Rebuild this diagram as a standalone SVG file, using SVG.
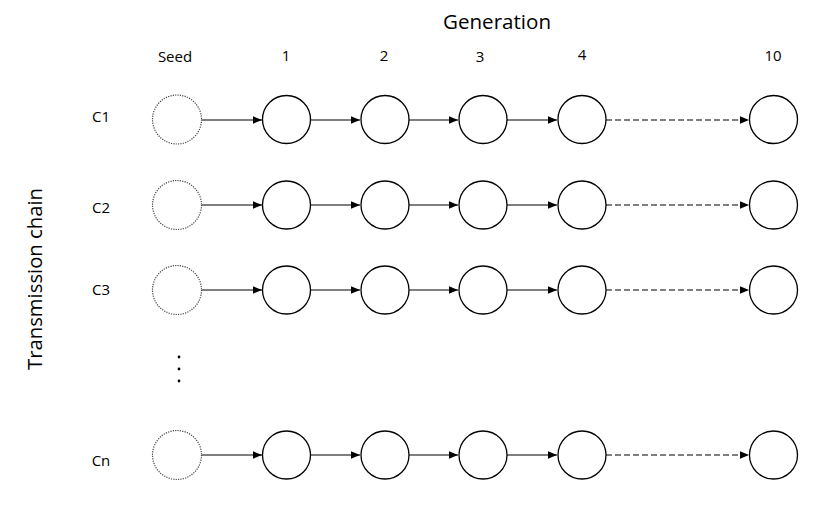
<svg xmlns="http://www.w3.org/2000/svg" width="834" height="508" viewBox="0 0 834 508">
<style>
.t{font-family:"Open Sans","Noto Sans","Liberation Sans",sans-serif;fill:#000;}
.lbl{font-size:15px;text-anchor:middle;}
.big{font-size:20px;text-anchor:middle;}
.n{fill:#fff;stroke:#000;stroke-width:1.3;}
.s{fill:#fff;stroke:#444;stroke-width:1.2;stroke-dasharray:1.2 1.2;}
.e{stroke:#000;stroke-width:1.2;fill:none;marker-end:url(#ah);}
.d{stroke-dasharray:6 3;}
</style>
<defs>
<marker id="ah" markerWidth="9" markerHeight="8" viewBox="0 0 9 8" refX="9" refY="4" orient="auto" markerUnits="userSpaceOnUse">
<path d="M0,0.3 L9,4 L0,7.7 Z" fill="#000"/>
</marker>
</defs>
<rect width="834" height="508" fill="#fff"/>
<g id="headers">
<text class="t big" x="497" y="29" textLength="108" lengthAdjust="spacingAndGlyphs">Generation</text>
<text class="t lbl" x="175" y="62">Seed</text>
<text class="t lbl" x="286" y="61">1</text>
<text class="t lbl" x="384" y="61">2</text>
<text class="t lbl" x="480" y="62">3</text>
<text class="t lbl" x="582" y="60">4</text>
<text class="t lbl" x="773" y="61">10</text>
<text class="t big" transform="translate(42,279) rotate(-90)" textLength="182" lengthAdjust="spacingAndGlyphs">Transmission chain</text>
<text class="t lbl" x="101" y="122">C1</text>
<text class="t lbl" x="101" y="213">C2</text>
<text class="t lbl" x="101" y="295">C3</text>
<text class="t lbl" x="101" y="466">Cn</text>
</g>
<g id="ellipsis" fill="#000">
<circle cx="179" cy="357" r="1.4"/>
<circle cx="179" cy="369" r="1.4"/>
<circle cx="179" cy="381" r="1.4"/>
</g>
<g id="connectors">
<line class="e" x1="202" y1="120" x2="262" y2="120"/>
<line class="e" x1="311" y1="120" x2="360" y2="120"/>
<line class="e" x1="409" y1="120" x2="458" y2="120"/>
<line class="e" x1="507" y1="120" x2="557" y2="120"/>
<line class="e d" x1="606" y1="120" x2="749" y2="120"/>
<line class="e" x1="202" y1="205" x2="262" y2="205"/>
<line class="e" x1="311" y1="205" x2="360" y2="205"/>
<line class="e" x1="409" y1="205" x2="458" y2="205"/>
<line class="e" x1="507" y1="205" x2="557" y2="205"/>
<line class="e d" x1="606" y1="205" x2="749" y2="205"/>
<line class="e" x1="202" y1="290" x2="262" y2="290"/>
<line class="e" x1="311" y1="290" x2="360" y2="290"/>
<line class="e" x1="409" y1="290" x2="458" y2="290"/>
<line class="e" x1="507" y1="290" x2="557" y2="290"/>
<line class="e d" x1="606" y1="290" x2="749" y2="290"/>
<line class="e" x1="202" y1="455" x2="262" y2="455"/>
<line class="e" x1="311" y1="455" x2="360" y2="455"/>
<line class="e" x1="409" y1="455" x2="458" y2="455"/>
<line class="e" x1="507" y1="455" x2="557" y2="455"/>
<line class="e d" x1="606" y1="455" x2="749" y2="455"/>
</g>
<g id="row-c1">
<circle id="c1-seed" class="s" cx="177" cy="119.5" r="24.5"/>
<circle id="c1-g1" class="n" cx="286.5" cy="119.5" r="24"/>
<circle id="c1-g2" class="n" cx="385" cy="119.5" r="24"/>
<circle id="c1-g3" class="n" cx="483" cy="119.5" r="24"/>
<circle id="c1-g4" class="n" cx="582" cy="119.5" r="24"/>
<circle id="c1-g10" class="n" cx="773.5" cy="119.5" r="24"/>
</g>
<g id="row-c2">
<circle id="c2-seed" class="s" cx="177" cy="205" r="24.5"/>
<circle id="c2-g1" class="n" cx="286.5" cy="205" r="24"/>
<circle id="c2-g2" class="n" cx="385" cy="205" r="24"/>
<circle id="c2-g3" class="n" cx="483" cy="205" r="24"/>
<circle id="c2-g4" class="n" cx="582" cy="205" r="24"/>
<circle id="c2-g10" class="n" cx="773.5" cy="205" r="24"/>
</g>
<g id="row-c3">
<circle id="c3-seed" class="s" cx="177" cy="290" r="24.5"/>
<circle id="c3-g1" class="n" cx="286.5" cy="290" r="24"/>
<circle id="c3-g2" class="n" cx="385" cy="290" r="24"/>
<circle id="c3-g3" class="n" cx="483" cy="290" r="24"/>
<circle id="c3-g4" class="n" cx="582" cy="290" r="24"/>
<circle id="c3-g10" class="n" cx="773.5" cy="290" r="24"/>
</g>
<g id="row-cn">
<circle id="cn-seed" class="s" cx="177" cy="455" r="24.5"/>
<circle id="cn-g1" class="n" cx="286.5" cy="455" r="24"/>
<circle id="cn-g2" class="n" cx="385" cy="455" r="24"/>
<circle id="cn-g3" class="n" cx="483" cy="455" r="24"/>
<circle id="cn-g4" class="n" cx="582" cy="455" r="24"/>
<circle id="cn-g10" class="n" cx="773.5" cy="455" r="24"/>
</g>
</svg>
